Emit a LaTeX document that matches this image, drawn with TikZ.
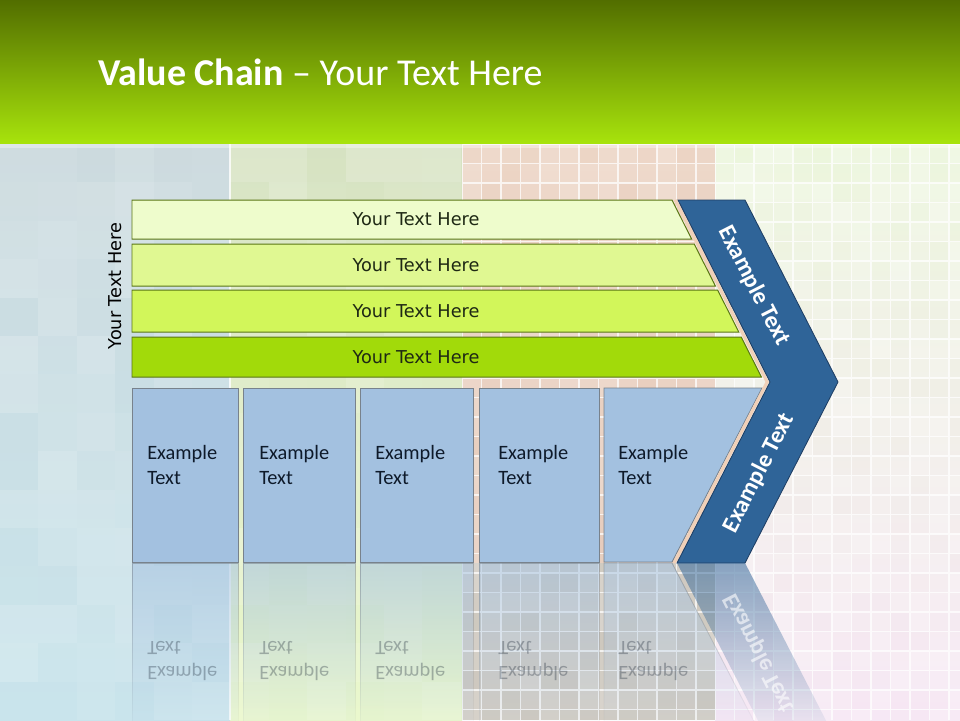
\documentclass[tikz,border=0pt]{standalone}
\usepackage{fontspec}
\setmainfont{Carlito}
\newfontfamily\vfont{DejaVu Sans}
\usetikzlibrary{calc, fadings, positioning}

\definecolor{hdtop}{RGB}{82,110,0}
\definecolor{hdbot}{RGB}{168,228,12}
\definecolor{pnAtop}{RGB}{204,218,222}
\definecolor{pnAbot}{RGB}{200,228,236}
\definecolor{pnBtop}{RGB}{214,226,194}
\definecolor{pnBbot}{RGB}{234,248,204}
\definecolor{pnCtop}{RGB}{236,212,196}
\definecolor{pnCbot}{RGB}{230,204,188}
\definecolor{pnClow}{RGB}{206,200,190}
\definecolor{pnDtop}{RGB}{236,246,220}
\definecolor{pnDmid}{RGB}{214,234,232}
\definecolor{pnDbot}{RGB}{246,230,244}
\definecolor{rowA}{RGB}{238,252,204}
\definecolor{rowB}{RGB}{224,248,146}
\definecolor{rowC}{RGB}{210,246,90}
\definecolor{rowD}{RGB}{162,218,10}
\definecolor{rowline}{RGB}{90,118,20}
\definecolor{boxblue}{RGB}{163,193,224}
\definecolor{boxline}{RGB}{120,130,140}
\definecolor{chevblue}{RGB}{47,100,152}
\definecolor{chevline}{RGB}{30,62,100}
\definecolor{peach}{RGB}{240,208,184}
\definecolor{txtdark}{RGB}{30,40,20}
\definecolor{txtnavy}{RGB}{14,26,42}

\tikzfading[name=refl fade, top color=transparent!45, bottom color=transparent!100]

\tikzset{
    rowbox/.style={draw=rowline, line width=0.7pt},
    rowtext/.style={font=\vfont\fontsize{12.6}{15}\selectfont, text=txtdark, inner sep=0pt},
    sidetext/.style={font=\vfont\fontsize{12.6}{15}\selectfont, text=black, inner sep=0pt},
    blkbox/.style={fill=boxblue, draw=boxline, line width=0.6pt},
    blktext/.style={font=\fontsize{14.5}{17.8}\selectfont, text=txtnavy, anchor=north west, align=left, inner sep=0pt},
    chevbox/.style={fill=chevblue, draw=chevline, line width=0.6pt},
    chevtext/.style={font=\bfseries\fontsize{17}{20}\selectfont, text=white, inner sep=0pt},
    peachline/.style={draw=peach, line width=2.2pt},
    reflbox/.style={fill=boxblue, draw=boxline, line width=0.6pt, path fading=refl fade},
    reflchev/.style={fill=chevblue, path fading=refl fade},
    gridline/.style={draw=white, opacity=.75, line width=1pt}
}

\begin{document}
\begin{tikzpicture}
    \useasboundingbox (0,0) rectangle (24,-18);

    % header band
    \shade[top color=hdtop, bottom color=hdbot] (0,0) rectangle (24,-3.6);
    \node[font=\fontsize{27}{31}\selectfont, text=white, anchor=base west, inner sep=0pt] (title) at (2.45,-2.125) {\textbf{Value Chain} – Your Text Here};

    % background panels
    \shade[top color=pnAtop, bottom color=pnAbot] (0,-3.6) rectangle (5.75,-18);
    \shade[top color=pnBtop, bottom color=pnBbot] (5.75,-3.6) rectangle (11.55,-18);
    \shade[top color=pnCtop, bottom color=pnCbot] (11.55,-3.6) rectangle (17.875,-14.075);
    \fill[pnClow] (11.55,-14.075) rectangle (17.875,-18);
    \shade[top color=pnDtop, middle color=pnDmid, bottom color=pnDbot] (17.875,-3.6) rectangle (24,-18);
    \fill[white, opacity=.35] (0,-3.6) rectangle (24,-3.7);

    % mosaic tiles
    \pgfmathsetseed{12}
    \begin{scope}
        \clip (0,-3.6) rectangle (11.55,-18);
        \foreach \i in {0,...,11} {
            \foreach \j in {0,...,14} {
                \pgfmathsetmacro{\tint}{rnd*0.2}
                \fill[white, opacity=\tint] (\i*0.96,-3.6-\j*0.96) rectangle ++(0.96,-0.96);
            }
        }
    \end{scope}
    \draw[white, opacity=.8, line width=1pt] (5.75,-3.6) -- (5.75,-18);

    % grid panels
    \begin{scope}[shift={(11.55,-3.6)}]
        \clip (0,0) rectangle (6.325,-14.4);
        \foreach \i in {0,...,12} {
            \foreach \j in {0,...,29} {
                \pgfmathsetmacro{\tint}{rnd*0.22}
                \fill[white, opacity=\tint] (\i*0.4875,-\j*0.4875) rectangle ++(0.4875,-0.4875);
            }
        }
        \draw[gridline] (0,0) grid[step=0.4875] (6.325,-14.4);
    \end{scope}
    \begin{scope}[shift={(17.875,-3.6)}]
        \clip (0,0) rectangle (6.125,-14.4);
        \foreach \i in {0,...,12} {
            \foreach \j in {0,...,29} {
                \pgfmathsetmacro{\tint}{rnd*0.35}
                \fill[white, opacity=\tint] (\i*0.4875,-\j*0.4875) rectangle ++(0.4875,-0.4875);
            }
        }
        \draw[gridline] (0,0) grid[step=0.4875] (6.125,-14.4);
    \end{scope}

    % side label
    \node[sidetext, rotate=90] (side) at (2.875,-7.15) {Your Text Here};

    % support rows
    \filldraw[rowbox, fill=rowA] (3.3,-5) -- (16.8,-5) -- (17.29,-5.975) -- (3.3,-5.975) -- cycle;
    \node[rowtext] (row1) at (10.4,-5.49) {Your Text Here};
    \filldraw[rowbox, fill=rowB] (3.3,-6.1) -- (17.355,-6.1) -- (17.885,-7.15) -- (3.3,-7.15) -- cycle;
    \node[rowtext] (row2) at (10.4,-6.63) {Your Text Here};
    \filldraw[rowbox, fill=rowC] (3.3,-7.25) -- (17.94,-7.25) -- (18.47,-8.3) -- (3.3,-8.3) -- cycle;
    \node[rowtext] (row3) at (10.4,-7.78) {Your Text Here};
    \filldraw[rowbox, fill=rowD] (3.3,-8.425) -- (18.53,-8.425) -- (19.035,-9.425) -- (3.3,-9.425) -- cycle;
    \node[rowtext] (row4) at (10.4,-8.92) {Your Text Here};

    % primary boxes
    \filldraw[blkbox] (3.3,-9.7) rectangle (5.95,-14.05);
    \node[blktext] (box1) at (3.675,-11.12) {Example\\Text};
    \filldraw[blkbox] (6.075,-9.7) rectangle (8.875,-14.05);
    \node[blktext] (box2) at (6.475,-11.12) {Example\\Text};
    \filldraw[blkbox] (9.0,-9.7) rectangle (11.825,-14.05);
    \node[blktext] (box3) at (9.375,-11.12) {Example\\Text};
    \filldraw[blkbox] (11.975,-9.7) rectangle (14.975,-14.05);
    \node[blktext] (box4) at (12.45,-11.12) {Example\\Text};
    \filldraw[blkbox] (15.1,-9.7) -- (19.05,-9.7) -- (16.8,-14.05) -- (15.1,-14.05) -- cycle;
    \node[blktext] (box5) at (15.45,-11.12) {Example\\Text};

    % chevron
    \draw[peachline] (16.88,-5) -- (19.18,-9.55) -- (16.855,-14.075);
    \filldraw[chevbox] (16.95,-5) -- (18.625,-5) -- (20.95,-9.55) -- (18.625,-14.075) -- (16.925,-14.075) -- (19.25,-9.55) -- cycle;
    \node[chevtext, rotate=-63] (chev1) at (18.85,-7.15) {Example Text};
    \node[chevtext, rotate=63] (chev2) at (18.975,-11.825) {Example Text};

    % reflections
    \filldraw[reflbox] (3.3,-14.075) rectangle (5.95,-18.425);
    \filldraw[reflbox] (6.075,-14.075) rectangle (8.875,-18.425);
    \filldraw[reflbox] (9.0,-14.075) rectangle (11.825,-18.425);
    \filldraw[reflbox] (11.975,-14.075) rectangle (14.975,-18.425);
    \filldraw[reflbox] (15.1,-14.075) -- (16.8,-14.075) -- (19.05,-18.425) -- (15.1,-18.425) -- cycle;
    \fill[reflchev] (16.925,-14.075) -- (18.625,-14.075) -- (20.95,-18.6) -- (19.25,-18.6) -- cycle;
    \node[blktext, yscale=-1, text opacity=.3] (rbox1) at (3.675,-17.03) {Example\\Text};
    \node[blktext, yscale=-1, text opacity=.3] (rbox2) at (6.475,-17.03) {Example\\Text};
    \node[blktext, yscale=-1, text opacity=.3] (rbox3) at (9.375,-17.03) {Example\\Text};
    \node[blktext, yscale=-1, text opacity=.3] (rbox4) at (12.45,-17.03) {Example\\Text};
    \node[blktext, yscale=-1, text opacity=.3] (rbox5) at (15.45,-17.03) {Example\\Text};
    \node[chevtext, rotate=-63, yscale=-1, text opacity=.6] (rchev) at (18.975,-16.325) {Example Text};
\end{tikzpicture}
\end{document}
